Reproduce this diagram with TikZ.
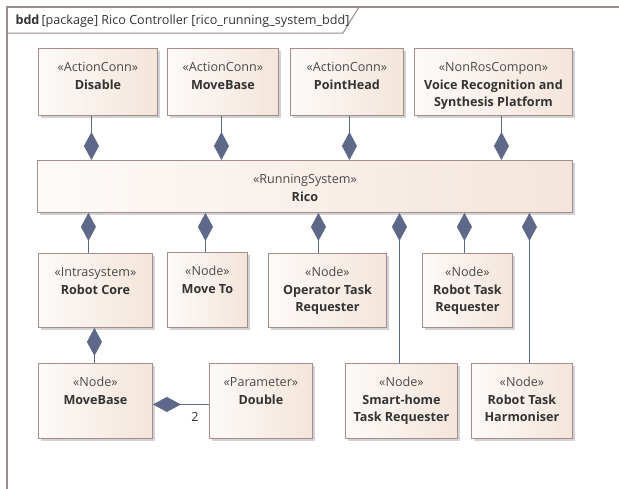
\documentclass[tikz,border=0pt]{standalone}
\usepackage{fontspec}
\setmainfont{Open Sans}
\usetikzlibrary{arrows.meta,shadows}
\definecolor{frameline}{HTML}{9A8B8B}
\definecolor{blkline}{HTML}{A68D8D}
\definecolor{blkfillA}{HTML}{FDFAF8}
\definecolor{blkfillB}{HTML}{F3E5DA}
\definecolor{connline}{HTML}{5E6889}
\definecolor{shade}{HTML}{D2D2D2}
\definecolor{ink}{HTML}{333333}
\definecolor{inkdim}{HTML}{4A4A4A}

% block body: stereotype line, then bold name, pinned to the top edge
\newcommand{\umlbox}[4]{\parbox[c][#2][t]{#1}{\centering\rule{0pt}{23.5pt}{\color{inkdim}«#3»}\\\textbf{#4}}}

\begin{document}
\begin{tikzpicture}[x=1pt, y=-1pt, >=Stealth, font=\fontsize{12.6}{17.5}\selectfont, text=ink]
 \tikzstyle{blk}=[rectangle,draw=blkline,line width=0.9pt,left color=blkfillA,right color=blkfillB,drop shadow={shadow xshift=3pt,shadow yshift=-3pt,fill=shade,opacity=1},inner sep=0pt,anchor=north west]
 \tikzstyle{comp}=[draw=connline,line width=1pt,{Diamond[length=28pt,width=15pt]}-]
 \clip (0,0) rectangle (619,488);
 \fill[white] (0,0) rectangle (619,488);

 % package frame and its name tab
 \draw[frameline,line width=1.5pt] (7,520) -- (7,7) -- (660,7);
 \draw[frameline,line width=1pt] (7,33) -- (343,33) -- (359,7);
 \node[anchor=west] (title) at (12,21) {\textbf{bdd}\,[package] Rico Controller [rico\_running\_system\_bdd]};

 % top row
 \node[blk] (dis) at (38,48) {\umlbox{119pt}{67pt}{ActionConn}{Disable}};
 \node[blk] (mvbA) at (167,48) {\umlbox{111pt}{67pt}{ActionConn}{MoveBase}};
 \node[blk] (phead) at (290,48) {\umlbox{113pt}{67pt}{ActionConn}{PointHead}};
 \node[blk] (voice) at (414,48) {\umlbox{158pt}{67pt}{NonRosCompon}{Voice Recognition and\\Synthesis Platform}};

 % running system
 \node[blk] (rico) at (37,160) {\umlbox{535pt}{52pt}{RunningSystem}{Rico}};

 % parts of rico
 \node[blk] (rcore) at (38,253) {\umlbox{114pt}{74pt}{Intrasystem}{Robot Core}};
 \node[blk] (moveto) at (167,252) {\umlbox{80pt}{75pt}{Node}{Move To}};
 \node[blk] (oper) at (268,253) {\umlbox{118pt}{74pt}{Node}{Operator Task\\Requester}};
 \node[blk] (rtreq) at (422,253) {\umlbox{90pt}{74pt}{Node}{Robot Task\\Requester}};
 \node[blk] (mvbB) at (38,363) {\umlbox{114pt}{75pt}{Node}{MoveBase}};
 \node[blk] (dbl) at (209,363) {\umlbox{103pt}{75pt}{Parameter}{Double}};
 \node[blk] (smart) at (345,363) {\umlbox{112pt}{75pt}{Node}{Smart-home\\Task Requester}};
 \node[blk] (harm) at (471,363) {\umlbox{101pt}{75pt}{Node}{Robot Task\\Harmoniser}};

 % composition links, diamond on the owner
 \draw[comp] ([xshift=-6.5pt]dis.south |- rico.north) -- ([xshift=-6.5pt]dis.south);
 \draw[comp] ([xshift=-1.5pt]mvbA.south |- rico.north) -- ([xshift=-1.5pt]mvbA.south);
 \draw[comp] ([xshift=2.5pt]phead.south |- rico.north) -- ([xshift=2.5pt]phead.south);
 \draw[comp] ([xshift=8pt]voice.south |- rico.north) -- ([xshift=8pt]voice.south);

 \draw[comp] ([xshift=-7pt]rcore.north |- rico.south) -- ([xshift=-7pt]rcore.north);
 \draw[comp] ([xshift=-2pt]moveto.north |- rico.south) -- ([xshift=-2pt]moveto.north);
 \draw[comp] ([xshift=-9pt]oper.north |- rico.south) -- ([xshift=-9pt]oper.north);
 \draw[comp] ([xshift=-2pt]smart.north |- rico.south) -- ([xshift=-2pt]smart.north);
 \draw[comp] ([xshift=-3pt]rtreq.north |- rico.south) -- ([xshift=-3pt]rtreq.north);
 \draw[comp] ([xshift=7.5pt]harm.north |- rico.south) -- ([xshift=7.5pt]harm.north);

 \draw[comp] ([xshift=-1pt]rcore.south) -- ([xshift=-1pt]mvbB.north);
 \draw[comp] ([yshift=-3.5pt]mvbB.east) -- ([yshift=-3.5pt]dbl.west) node[pos=.75,below=4pt] (mult) {2};
\end{tikzpicture}
\end{document}
